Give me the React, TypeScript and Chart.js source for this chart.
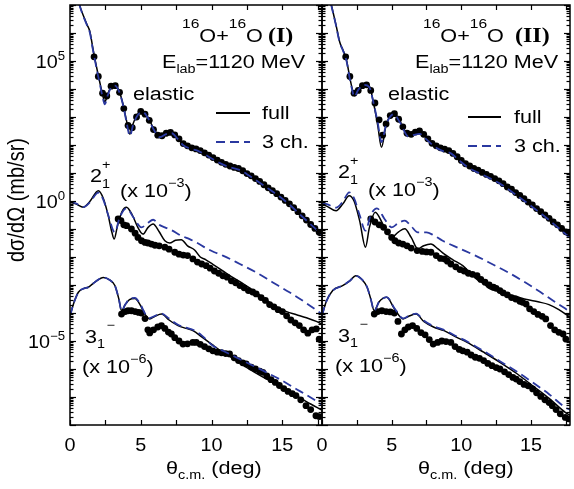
import React, { useEffect, useRef } from 'react';
import { Chart, registerables } from 'chart.js';

Chart.register(...registerables);

// ---------- DATA : [theta_cm (deg), log10(dsigma/dOmega in mb/sr)] ----------
// Panel (I)
const elasticFullI: [number, number][] = [
  [0.2, 8.0], [0.5, 7.35], [0.7, 6.96], [1.0, 6.55], [1.2, 6.3], [1.41, 6.04], [1.6, 5.5], [1.76, 5.07],
  [1.95, 4.6], [2.1, 4.25], [2.3, 3.8], [2.46, 3.54], [2.65, 3.8], [2.9, 4.08], [3.17, 4.14], [3.45, 3.95],
  [3.75, 3.45], [4.0, 2.85], [4.23, 2.39], [4.45, 2.75], [4.8, 3.12], [5.14, 3.21], [5.5, 3.0], [5.9, 2.6],
  [6.34, 2.32], [6.75, 2.42], [7.18, 2.46], [7.6, 2.25], [8.0, 2.02], [8.5, 1.9], [9.0, 1.83], [9.5, 1.7],
  [10.0, 1.55], [10.56, 1.39], [11.2, 1.25], [11.97, 1.14], [12.7, 0.92], [13.4, 0.68], [14.1, 0.43],
  [14.8, 0.18], [15.5, -0.12], [16.2, -0.45], [16.9, -0.78], [17.8, -1.18],
];
const elastic3chI: [number, number][] = [
  [0.2, 8.0], [0.5, 7.33], [0.7, 6.95], [1.0, 6.52], [1.2, 6.28], [1.41, 6.0], [1.6, 5.45], [1.76, 5.03],
  [1.95, 4.55], [2.1, 4.2], [2.3, 3.72], [2.46, 3.45], [2.65, 3.75], [2.9, 4.05], [3.17, 4.12], [3.45, 3.93],
  [3.75, 3.42], [4.0, 2.8], [4.23, 2.32], [4.45, 2.7], [4.8, 3.08], [5.14, 3.18], [5.5, 2.97], [5.9, 2.56],
  [6.34, 2.28], [6.75, 2.38], [7.18, 2.42], [7.6, 2.22], [8.0, 1.99], [8.5, 1.87], [9.0, 1.8], [9.5, 1.67],
  [10.0, 1.52], [10.56, 1.36], [11.2, 1.22], [11.97, 1.11], [12.7, 0.89], [13.4, 0.65], [14.1, 0.41],
  [14.8, 0.16], [15.5, -0.13], [16.2, -0.46], [16.9, -0.79], [17.8, -1.2],
];
const elasticDataI: [number, number][] = [
  [1.7, 5.15], [2.0, 4.45], [2.3, 3.85], [2.6, 3.75], [2.9, 4.1], [3.2, 4.12], [3.5, 3.88], [3.8, 3.3],
  [4.1, 2.7], [4.4, 2.62], [4.7, 3.0], [5.0, 3.2], [5.3, 3.1], [5.6, 2.88], [5.9, 2.55], [6.2, 2.35],
  [6.5, 2.33], [6.8, 2.42], [7.1, 2.45], [7.4, 2.36], [7.7, 2.22], [8.0, 2.05], [8.3, 1.97], [8.6, 1.9],
  [8.9, 1.86], [9.2, 1.8], [9.5, 1.72], [9.8, 1.64], [10.1, 1.55], [10.4, 1.46], [10.7, 1.38], [11.0, 1.31],
  [11.3, 1.25], [11.6, 1.2], [11.9, 1.16], [12.2, 1.08], [12.5, 0.98], [12.8, 0.9], [13.1, 0.8], [13.4, 0.7],
  [13.7, 0.58], [14.0, 0.47], [14.3, 0.37], [14.6, 0.26], [14.9, 0.14], [15.2, 0.02], [15.5, -0.1],
  [15.8, -0.24], [16.1, -0.38], [16.4, -0.53], [16.7, -0.68], [17.0, -0.84], [17.3, -0.98], [17.6, -1.12],
];
const ex2FullI: [number, number][] = [
  [0.0, -0.05], [0.4, -0.1], [0.94, -0.22], [1.4, -0.02], [2.0, 0.37], [2.35, 0.1], [2.7, -0.52],
  [2.95, -1.1], [3.12, -1.36], [3.35, -0.9], [3.65, -0.4], [3.99, -0.22], [4.4, -0.5], [4.8, -0.95],
  [5.16, -1.18], [5.5, -0.95], [5.87, -0.82], [6.3, -1.1], [6.7, -1.42], [7.04, -1.5], [7.45, -1.4],
  [7.86, -1.38], [8.3, -1.6], [8.8, -1.75], [9.2, -2.0], [9.6, -2.1], [10.2, -2.3], [10.8, -2.5],
  [11.4, -2.7], [12.0, -2.88], [12.6, -3.08], [13.2, -3.28], [13.9, -3.55], [14.6, -3.78], [15.3, -3.95],
  [16.0, -4.06], [16.7, -4.17], [17.4, -4.3], [17.8, -4.4],
];
const ex2ChI: [number, number][] = [
  [0.0, -0.02], [0.4, -0.08], [0.94, -0.22], [1.4, -0.05], [2.0, 0.3], [2.35, 0.05], [2.7, -0.5],
  [3.17, -1.12], [3.5, -0.6], [3.99, -0.26], [4.5, -0.6], [5.05, -0.94], [5.5, -0.78], [5.87, -0.67],
  [6.3, -0.85], [6.7, -0.94], [7.2, -1.05], [7.86, -1.24], [8.45, -1.36], [9.0, -1.5], [9.6, -1.68],
  [10.2, -1.83], [10.8, -1.95], [12.0, -2.25], [13.15, -2.55], [14.3, -2.9], [15.5, -3.26], [16.7, -3.65],
  [17.8, -4.04],
];
const ex2DataI: [number, number][] = [
  [3.4, -0.64], [3.6, -0.7], [3.8, -0.85], [4.0, -0.88], [4.34, -1.0], [4.6, -1.15], [4.8, -1.3],
  [5.05, -1.42], [5.3, -1.48], [5.5, -1.5], [5.75, -1.54], [6.0, -1.58], [6.3, -1.6], [6.7, -1.65],
  [7.0, -1.72], [7.4, -1.83], [7.7, -1.9], [8.0, -1.93], [8.3, -1.95], [8.68, -2.07], [9.0, -2.18],
  [9.3, -2.25], [9.62, -2.31], [9.9, -2.4], [10.2, -2.5], [10.5, -2.58], [10.8, -2.67], [11.1, -2.72],
  [11.4, -2.85], [11.7, -2.92], [12.0, -3.02], [12.3, -3.1], [12.6, -3.2], [12.9, -3.25], [13.15, -3.32],
  [13.5, -3.45], [13.8, -3.55], [14.1, -3.7], [14.4, -3.78], [14.7, -3.88], [15.0, -3.95], [15.3, -4.1],
  [15.6, -4.25], [15.9, -4.35], [16.2, -4.45], [16.5, -4.6], [16.8, -4.72], [17.1, -4.6], [17.4, -4.57],
  [17.6, -4.93],
];
const ex3FullI: [number, number][] = [
  [0.0, -4.1], [0.3, -3.6], [0.59, -3.26], [1.0, -3.12], [1.29, -3.08], [1.8, -2.88], [2.35, -2.73],
  [2.8, -2.82], [3.17, -3.02], [3.45, -3.5], [3.64, -3.92], [3.9, -3.7], [4.2, -3.52], [4.58, -3.48],
  [5.0, -3.75], [5.3, -4.05], [5.63, -4.21], [6.0, -4.12], [6.46, -4.04], [7.0, -4.25], [7.63, -4.45],
  [8.2, -4.55], [8.68, -4.63], [9.3, -4.85], [10.1, -5.15], [10.8, -5.4], [11.6, -5.65], [12.47, -5.94],
  [13.6, -6.28], [14.83, -6.6], [16.0, -6.95], [17.0, -7.25], [17.8, -7.47],
];
const ex3ChI: [number, number][] = [
  [0.0, -4.1], [0.3, -3.6], [0.59, -3.26], [1.0, -3.12], [1.29, -3.08], [1.8, -2.88], [2.35, -2.73],
  [2.8, -2.82], [3.17, -3.02], [3.45, -3.5], [3.64, -3.92], [3.9, -3.7], [4.2, -3.5], [4.58, -3.46],
  [5.0, -3.72], [5.3, -4.02], [5.63, -4.18], [6.0, -4.1], [6.46, -4.02], [7.0, -4.2], [7.63, -4.42],
  [8.2, -4.52], [8.68, -4.6], [9.3, -4.8], [10.09, -5.17], [10.8, -5.35], [11.6, -5.55], [12.44, -5.76],
  [13.6, -6.05], [14.79, -6.36], [16.0, -6.72], [17.0, -7.02], [17.8, -7.28],
];
const ex3DataI: [number, number][] = [
  [3.64, -4.04], [3.9, -3.95], [4.1, -3.92], [4.34, -3.92], [4.6, -3.95], [4.85, -3.98], [5.05, -4.0],
  [5.3, -4.2], [5.5, -4.6], [5.63, -4.71], [5.9, -4.6], [6.2, -4.5], [6.46, -4.45], [6.7, -4.55],
  [6.95, -4.68], [7.16, -4.75], [7.4, -4.88], [7.7, -5.0], [7.98, -5.11], [8.3, -5.1], [8.68, -5.05],
  [8.92, -5.05], [9.2, -5.12], [9.5, -5.2], [9.8, -5.28], [10.09, -5.35], [10.4, -5.4], [10.7, -5.42],
  [11.0, -5.45], [11.27, -5.46], [11.6, -5.6], [11.9, -5.7], [12.2, -5.78], [12.44, -5.82], [12.8, -5.93],
  [13.1, -6.0], [13.4, -6.08], [13.62, -6.12], [13.9, -6.25], [14.2, -6.38], [14.5, -6.48], [14.79, -6.59],
  [15.1, -6.7], [15.4, -6.8], [15.7, -6.88], [15.96, -6.95], [16.3, -7.1], [16.67, -7.31], [17.0, -7.45],
  [17.37, -7.67], [17.6, -7.7],
];

// Panel (II)
const elasticFullII: [number, number][] = [
  [0.2, 8.0], [0.5, 7.35], [0.68, 6.98], [1.0, 6.3], [1.27, 5.68], [1.5, 5.4], [1.74, 5.07], [2.0, 4.4],
  [2.15, 4.05], [2.32, 3.76], [2.6, 4.0], [3.03, 4.18], [3.38, 4.12], [3.7, 3.5], [4.0, 2.7], [4.27, 1.92],
  [4.6, 2.7], [5.14, 3.17], [5.6, 2.85], [6.2, 2.33], [6.6, 2.42], [7.0, 2.48], [7.5, 2.25], [8.06, 1.98],
  [8.6, 1.85], [9.25, 1.74], [9.8, 1.5], [10.42, 1.26], [11.6, 0.96], [12.77, 0.67], [13.9, 0.28],
  [15.12, -0.17], [16.3, -0.62], [17.46, -1.12], [17.8, -1.25],
];
const elastic3chII: [number, number][] = [
  [0.2, 8.0], [0.5, 7.33], [0.68, 6.96], [1.0, 6.28], [1.27, 5.66], [1.5, 5.38], [1.74, 5.04], [2.0, 4.35],
  [2.15, 4.0], [2.32, 3.72], [2.6, 3.97], [3.03, 4.15], [3.38, 4.08], [3.7, 3.5], [4.0, 2.8], [4.27, 2.1],
  [4.6, 2.72], [5.14, 3.1], [5.6, 2.8], [6.2, 2.3], [6.6, 2.36], [7.0, 2.4], [7.5, 2.2], [8.06, 1.95],
  [8.6, 1.8], [9.25, 1.7], [9.8, 1.47], [10.42, 1.22], [11.6, 0.92], [12.77, 0.62], [13.9, 0.23],
  [15.12, -0.22], [16.3, -0.68], [17.46, -1.17], [17.8, -1.3],
];
const elasticDataII: [number, number][] = [
  [1.7, 5.15], [2.0, 4.45], [2.3, 3.85], [2.6, 3.95], [2.9, 4.12], [3.2, 4.15], [3.5, 3.95], [3.8, 3.5],
  [4.1, 2.9], [4.35, 2.35], [4.6, 2.75], [4.9, 3.05], [5.2, 3.12], [5.5, 2.92], [5.8, 2.65], [6.1, 2.42],
  [6.4, 2.38], [6.7, 2.46], [7.0, 2.5], [7.3, 2.38], [7.6, 2.22], [7.9, 2.06], [8.2, 1.97], [8.5, 1.9],
  [8.8, 1.85], [9.1, 1.8], [9.4, 1.7], [9.7, 1.58], [10.0, 1.45], [10.3, 1.33], [10.6, 1.25], [10.9, 1.16],
  [11.2, 1.1], [11.5, 1.02], [11.8, 0.95], [12.1, 0.88], [12.4, 0.8], [12.7, 0.72], [13.0, 0.62], [13.3, 0.5],
  [13.6, 0.42], [13.9, 0.3], [14.2, 0.2], [14.5, 0.08], [14.8, -0.04], [15.1, -0.14], [15.4, -0.27],
  [15.7, -0.38], [16.0, -0.5], [16.3, -0.62], [16.6, -0.75], [16.9, -0.85], [17.2, -0.98], [17.5, -1.1],
  [17.7, -1.15],
];
const ex2FullII: [number, number][] = [
  [0.0, -0.11], [0.4, -0.2], [1.01, -0.35], [1.5, -0.1], [1.95, 0.19], [2.3, 0.0], [2.7, -0.7],
  [3.12, -1.65], [3.4, -0.95], [3.82, -0.4], [4.4, -0.85], [5.0, -1.3], [5.5, -1.1], [5.94, -0.99],
  [6.4, -1.3], [6.88, -1.71], [7.3, -1.6], [7.82, -1.54], [8.3, -1.7], [8.76, -1.89], [9.4, -2.1],
  [10.1, -2.31], [10.6, -2.55], [11.1, -2.79], [11.6, -2.95], [12.06, -3.14], [12.6, -3.2], [13.24, -3.32],
  [14.0, -3.42], [14.7, -3.52], [15.5, -3.6], [16.29, -3.7], [17.0, -3.88], [17.8, -4.15],
];
const ex2ChII: [number, number][] = [
  [0.0, -0.07], [0.4, -0.12], [1.01, -0.24], [1.5, -0.02], [1.95, 0.31], [2.3, 0.1], [2.7, -0.5],
  [3.12, -1.06], [3.5, -0.5], [3.94, -0.26], [4.5, -0.65], [5.0, -0.94], [5.5, -0.78], [5.94, -0.7],
  [6.4, -0.9], [6.88, -1.12], [7.5, -1.12], [8.0, -1.22], [8.66, -1.42], [9.8, -1.68], [11.01, -1.95],
  [12.2, -2.25], [13.36, -2.55], [14.5, -2.88], [15.7, -3.26], [16.7, -3.6], [17.8, -3.95],
];
const ex2DataII: [number, number][] = [
  [3.5, -0.64], [3.8, -0.75], [4.1, -0.85], [4.42, -0.94], [4.7, -1.1], [5.0, -1.3], [5.23, -1.42],
  [5.5, -1.5], [5.8, -1.54], [6.1, -1.6], [6.4, -1.68], [6.83, -1.77], [7.2, -1.8], [7.5, -1.82],
  [7.82, -1.83], [8.2, -1.95], [8.5, -2.05], [8.8, -2.07], [9.0, -2.15], [9.25, -2.25], [9.6, -2.35],
  [9.9, -2.45], [10.2, -2.5], [10.5, -2.58], [10.8, -2.62], [11.13, -2.67], [11.4, -2.8], [11.7, -2.9],
  [12.0, -3.0], [12.3, -3.08], [12.5, -3.12], [12.77, -3.2], [13.0, -3.28], [13.3, -3.35], [13.6, -3.45],
  [13.9, -3.5], [14.2, -3.58], [14.4, -3.62], [14.65, -3.68], [14.9, -3.85], [15.2, -3.95], [15.5, -4.05],
  [15.8, -4.12], [16.06, -4.21], [16.4, -4.45], [16.7, -4.6], [17.0, -4.69], [17.3, -4.75], [17.5, -4.93],
];
const ex3FullII: [number, number][] = [
  [0.0, -4.1], [0.3, -3.6], [0.77, -3.2], [1.48, -3.02], [2.0, -2.85], [2.42, -2.67], [2.9, -2.82],
  [3.24, -3.08], [3.5, -3.5], [3.75, -3.92], [4.1, -3.6], [4.65, -3.44], [5.2, -3.85], [5.82, -4.21],
  [6.3, -4.1], [6.76, -4.04], [7.3, -4.3], [8.0, -4.5], [8.76, -4.63], [9.6, -4.85], [10.42, -5.05],
  [11.6, -5.4], [12.77, -5.76], [14.0, -6.17], [15.12, -6.6], [16.3, -7.05], [17.46, -7.55], [17.8, -7.65],
];
const ex3ChII: [number, number][] = [
  [0.0, -4.1], [0.3, -3.6], [0.77, -3.2], [1.48, -3.02], [2.0, -2.85], [2.42, -2.67], [2.9, -2.82],
  [3.24, -3.08], [3.5, -3.5], [3.75, -3.92], [4.1, -3.6], [4.65, -3.43], [5.2, -3.83], [5.82, -4.19],
  [6.3, -4.08], [6.76, -4.02], [7.3, -4.27], [8.0, -4.47], [8.76, -4.6], [9.6, -4.82], [10.42, -5.02],
  [11.6, -5.36], [12.77, -5.72], [14.0, -6.1], [15.12, -6.48], [16.3, -6.9], [17.46, -7.37], [17.8, -7.45],
];
const ex3DataII: [number, number][] = [
  [3.75, -4.04], [4.0, -3.95], [4.3, -3.92], [4.6, -3.95], [4.9, -3.96], [5.2, -4.0], [5.45, -4.3],
  [5.7, -4.75], [5.95, -4.6], [6.2, -4.5], [6.5, -4.45], [6.8, -4.55], [7.1, -4.7], [7.4, -4.78],
  [7.7, -4.95], [7.98, -5.11], [8.3, -5.05], [8.6, -5.0], [8.9, -5.02], [9.25, -5.05], [9.55, -5.2],
  [9.85, -5.3], [10.1, -5.35], [10.42, -5.4], [10.7, -5.5], [11.0, -5.58], [11.3, -5.62], [11.6, -5.7],
  [11.9, -5.8], [12.2, -5.88], [12.5, -5.95], [12.77, -6.0], [13.1, -6.1], [13.4, -6.2], [13.7, -6.3],
  [13.94, -6.36], [14.2, -6.45], [14.5, -6.55], [14.8, -6.6], [15.12, -6.71], [15.4, -6.85], [15.7, -6.98],
  [16.0, -7.1], [16.3, -7.2], [16.53, -7.31], [16.8, -7.45], [17.1, -7.6], [17.46, -7.73], [17.7, -7.78],
];

// Axis values
const xRange = [0, 17.8];
const yRange = [1e-8, 1e7];
const xTickLabels = [0, 5, 10, 15];
const xTickStep = 2.5;
const yLabelExponents = [5, 0, -5];

// ---------- STYLE ----------
const SANS = '"Liberation Sans", Arial, Helvetica, sans-serif';
const SERIF = '"Liberation Serif", "Times New Roman", serif';
const BLUE = 'rgb(42,56,160)';
const SX = 1.2;

type Seg = { t: string; size: number; dy?: number; bold?: boolean; serif?: boolean; adv?: boolean; dx?: number };

function fontOf(s: Seg) {
  return `${s.bold ? 'bold ' : ''}${s.size}px ${s.serif ? SERIF : SANS}`;
}
function richWidth(ctx: CanvasRenderingContext2D, segs: Seg[], sx: number) {
  let cx = 0;
  ctx.save();
  for (const s of segs) {
    ctx.font = fontOf(s);
    const px = cx + (s.dx ?? 0);
    if (s.adv !== false) cx = px + ctx.measureText(s.t).width;
  }
  ctx.restore();
  return cx * sx;
}
function drawRich(ctx: CanvasRenderingContext2D, x: number, y: number, segs: Seg[], sx = SX) {
  ctx.save();
  ctx.translate(x, y);
  ctx.scale(sx, 1);
  ctx.textAlign = 'left';
  ctx.textBaseline = 'alphabetic';
  ctx.fillStyle = '#000';
  let cx = 0;
  for (const s of segs) {
    ctx.font = fontOf(s);
    const px = cx + (s.dx ?? 0);
    ctx.fillText(s.t, px, s.dy ?? 0);
    if (s.adv !== false) cx = px + ctx.measureText(s.t).width;
  }
  ctx.restore();
}

type PanelCfg = {
  name: string;
  roman: string;
  area: { left: number; right: number; top: number; bottom: number };
  yLabels: boolean;
  title: [number, number];
  romanX: number;
  elab: [number, number];
  elastic: [number, number];
  legend: { x0: number; x1: number; yFull: number; yCh: number; tx: number; tyFull: number; tyCh: number };
  two: [number, number];
  twoScale: [number, number];
  three: [number, number];
  threeScale: [number, number];
  xTitle: [number, number];
  series: { full: [number, number][]; ch: [number, number][]; data: [number, number][] }[];
};

const panelI: PanelCfg = {
  name: 'I', roman: '(I)',
  area: { left: 70, right: 322, top: 5, bottom: 425 },
  yLabels: true,
  title: [182, 42], romanX: 268,
  elab: [162, 68],
  elastic: [133, 100],
  legend: { x0: 216, x1: 250, yFull: 113, yCh: 142, tx: 262, tyFull: 119, tyCh: 148 },
  two: [90, 182], twoScale: [120, 197],
  three: [85, 343], threeScale: [82, 373],
  xTitle: [166, 474],
  series: [
    { full: elasticFullI, ch: elastic3chI, data: elasticDataI },
    { full: ex2FullI, ch: ex2ChI, data: ex2DataI },
    { full: ex3FullI, ch: ex3ChI, data: ex3DataI },
  ],
};
const panelII: PanelCfg = {
  name: 'II', roman: '(II)',
  area: { left: 322, right: 573, top: 5, bottom: 425 },
  yLabels: false,
  title: [423, 42], romanX: 515,
  elab: [415, 68],
  elastic: [388, 100],
  legend: { x0: 468, x1: 501, yFull: 117, yCh: 146, tx: 514, tyFull: 123, tyCh: 152 },
  two: [338, 178], twoScale: [368, 196],
  three: [338, 342], threeScale: [335, 372],
  xTitle: [418, 474],
  series: [
    { full: elasticFullII, ch: elastic3chII, data: elasticDataII },
    { full: ex2FullII, ch: ex2ChII, data: ex2DataII },
    { full: ex3FullII, ch: ex3ChII, data: ex3DataII },
  ],
};

const toPts = (arr: [number, number][]) => arr.map(([t, l]) => ({ x: t, y: Math.pow(10, l) }));

function line(ctx: CanvasRenderingContext2D, x0: number, y0: number, x1: number, y1: number) {
  ctx.beginPath();
  ctx.moveTo(x0, y0);
  ctx.lineTo(x1, y1);
  ctx.stroke();
}

function makePlugin(p: PanelCfg) {
  return {
    id: 'frame' + p.name,
    afterDraw(chart: any) {
      const ctx: CanvasRenderingContext2D = chart.ctx;
      const a = chart.chartArea;
      const xs = chart.scales.x;
      const ys = chart.scales.y;
      ctx.save();
      ctx.strokeStyle = '#000';
      ctx.lineWidth = 1.2;
      // y ticks (inward, both sides)
      for (let e = -8; e <= 7; e++) {
        for (let m = 1; m <= 9; m++) {
          const v = m * Math.pow(10, e);
          if (v > yRange[1] * 1.0001) break;
          const py = Math.round(ys.getPixelForValue(v)) + 0.5;
          const len = m === 1 ? 6 : 3.5;
          line(ctx, a.left, py, a.left + len, py);
          line(ctx, a.right, py, a.right - len, py);
        }
      }
      // x ticks
      for (let t = xRange[0]; t <= xRange[1] + 1e-6; t += xTickStep) {
        const px = Math.round(xs.getPixelForValue(t)) + 0.5;
        line(ctx, px, a.bottom, px, a.bottom - 5);
        line(ctx, px, a.top, px, a.top + 5);
      }
      ctx.lineWidth = 1.5;
      ctx.strokeRect(a.left, a.top, a.right - a.left, a.bottom - a.top);

      // x tick labels
      for (const v of xTickLabels) {
        const px = xs.getPixelForValue(v);
        const segs: Seg[] = [{ t: String(v), size: 18 }];
        const w = richWidth(ctx, segs, 1.1);
        drawRich(ctx, px - w / 2, 451, segs, 1.1);
      }
      // y tick labels
      if (p.yLabels) {
        for (const e of yLabelExponents) {
          const py = ys.getPixelForValue(Math.pow(10, e));
          const segs: Seg[] = [
            { t: '10', size: 18 },
            { t: e < 0 ? '\u2212' + Math.abs(e) : String(e), size: 12, dy: -8 },
          ];
          const w = richWidth(ctx, segs, 1.1);
          drawRich(ctx, 65 - w, py + 7, segs, 1.1);
        }
        // y title (rotated)
        ctx.save();
        ctx.translate(24, 262);
        ctx.scale(1.2, 1);
        ctx.rotate(-Math.PI / 2);
        ctx.fillStyle = '#000';
        ctx.font = `20px ${SANS}`;
        ctx.textAlign = 'left';
        ctx.textBaseline = 'alphabetic';
        ctx.fillText('d\u03c3/d\u03a9 (mb/sr)', 0, 0);
        ctx.restore();
      }
      // x title
      drawRich(ctx, p.xTitle[0], p.xTitle[1], [
        { t: '\u03b8', size: 18 },
        { t: 'c.m.', size: 12, dy: 5 },
        { t: ' (deg)', size: 18 },
      ]);

      // title
      drawRich(ctx, p.title[0], p.title[1], [
        { t: '16', size: 13, dy: -14 },
        { t: 'O+', size: 18 },
        { t: '16', size: 13, dy: -14 },
        { t: 'O', size: 18 },
      ]);
      drawRich(ctx, p.romanX, p.title[1], [{ t: p.roman, size: 20, bold: true, serif: true }]);
      drawRich(ctx, p.elab[0], p.elab[1], [
        { t: 'E', size: 18 },
        { t: 'lab', size: 12, dy: 5 },
        { t: '=1120 MeV', size: 18 },
      ]);
      drawRich(ctx, p.elastic[0], p.elastic[1], [{ t: 'elastic', size: 18 }]);

      // legend
      const L = p.legend;
      ctx.strokeStyle = '#000';
      ctx.lineWidth = 2;
      ctx.setLineDash([]);
      line(ctx, L.x0, L.yFull, L.x1, L.yFull);
      ctx.strokeStyle = BLUE;
      ctx.setLineDash([9, 5]);
      line(ctx, L.x0, L.yCh, L.x1, L.yCh);
      ctx.setLineDash([]);
      drawRich(ctx, L.tx, L.tyFull, [{ t: 'full', size: 18 }]);
      drawRich(ctx, L.tx, L.tyCh, [{ t: '3 ch.', size: 18 }]);

      // state labels
      drawRich(ctx, p.two[0], p.two[1], [
        { t: '2', size: 18 },
        { t: '1', size: 12, dy: 6, adv: false },
        { t: '+', size: 12, dy: -13 },
      ]);
      drawRich(ctx, p.twoScale[0], p.twoScale[1], [
        { t: '(x 10', size: 18 },
        { t: '\u22123', size: 12, dy: -10 },
        { t: ')', size: 18 },
      ]);
      drawRich(ctx, p.three[0], p.three[1], [
        { t: '3', size: 18 },
        { t: '1', size: 12, dy: 5, adv: false },
        { t: '\u2212', size: 12, dy: -14, dx: 8 },
      ]);
      drawRich(ctx, p.threeScale[0], p.threeScale[1], [
        { t: '(x 10', size: 18 },
        { t: '\u22126', size: 12, dy: -10 },
        { t: ')', size: 18 },
      ]);
      ctx.restore();
    },
  };
}

function makeConfig(p: PanelCfg): any {
  const W = 574, H = 489;
  const datasets: any[] = [];
  for (const s of p.series) {
    datasets.push({
      data: toPts(s.data), showLine: false, pointRadius: 3.4, pointBackgroundColor: '#000',
      pointBorderWidth: 0, borderColor: '#000', order: 3, clip: 0,
    });
    datasets.push({
      data: toPts(s.full), borderColor: '#000', borderWidth: 1.5, pointRadius: 0,
      cubicInterpolationMode: 'monotone', order: 2, clip: 0, fill: false,
    });
    datasets.push({
      data: toPts(s.ch), borderColor: BLUE, borderWidth: 1.8, borderDash: [9, 5], pointRadius: 0,
      cubicInterpolationMode: 'monotone', order: 1, clip: 0, fill: false,
    });
  }
  return {
    type: 'line',
    data: { datasets },
    options: {
      animation: false,
      responsive: false,
      maintainAspectRatio: false,
      devicePixelRatio: 1,
      events: [],
      layout: {
        padding: { left: p.area.left, right: W - p.area.right, top: p.area.top, bottom: H - p.area.bottom },
      },
      scales: {
        x: { type: 'linear', min: xRange[0], max: xRange[1], display: false },
        y: { type: 'logarithmic', min: yRange[0], max: yRange[1], display: false },
      },
      plugins: { legend: { display: false }, tooltip: { enabled: false }, title: { display: false } },
    },
    plugins: [makePlugin(p)],
  };
}

export default function App() {
  const leftRef = useRef<HTMLCanvasElement>(null);
  const rightRef = useRef<HTMLCanvasElement>(null);
  useEffect(() => {
    const c1 = new Chart(leftRef.current as HTMLCanvasElement, makeConfig(panelI));
    const c2 = new Chart(rightRef.current as HTMLCanvasElement, makeConfig(panelII));
    return () => {
      c1.destroy();
      c2.destroy();
    };
  }, []);
  const cs: React.CSSProperties = { position: 'absolute', left: 0, top: 0, width: 574, height: 489 };
  return (
    <div style={{ position: 'fixed', left: 0, top: 0, width: 574, height: 489, background: '#fff' }}>
      <canvas ref={leftRef} width={574} height={489} style={cs} />
      <canvas ref={rightRef} width={574} height={489} style={cs} />
    </div>
  );
}
